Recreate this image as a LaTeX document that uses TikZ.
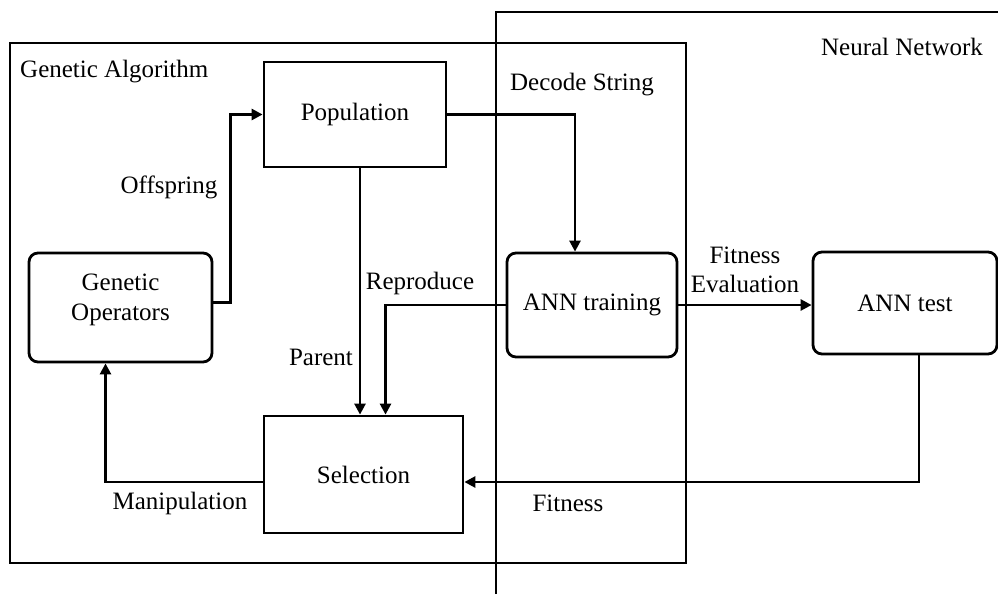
\documentclass[tikz,border=0pt]{standalone}
\usepackage{fontspec}
\setmainfont{Liberation Serif}
\usepackage{tikz}
\usetikzlibrary{arrows.meta, positioning}

\begin{document}
\begin{tikzpicture}[
    x=1pt, y=-1pt,
    box/.style={draw, line width=2.8pt, minimum width=#1, align=center, font=\fontsize{25}{30}\selectfont},
    rbox/.style={box=#1, rounded corners=9pt},
    frame/.style={draw, line width=1.4pt},
    lbl/.style={inner sep=0pt, align=center, font=\fontsize{25}{29}\selectfont},
    arr/.style={-{Triangle[length=11pt, width=11pt]}, line width=2.6pt},
  ]
    \useasboundingbox (0,0) rectangle (998,594);

    % the two frames
    \draw[frame] (10,43) rectangle (686,563);
    \draw[frame] (496,594) -- (496,12) -- (998,12);
    \node[lbl, anchor=west] (galbl) at (20,72) {Genetic Algorithm};
    \node[lbl] (nnlbl) at (902,47) {Neural Network};

    \node[box=182pt, minimum height=105pt] (pop) at (355,114.5) {Population};
    \node[rbox=183pt, minimum height=109pt, text depth=20pt] (genop) at (120.5,307.5) {Genetic\\Operators};
    \node[box=199pt, minimum height=117pt] (sel) at (363.5,474.5) {Selection};
    \node[rbox=170pt, minimum height=104pt] (anntrain) at (592,305) {ANN training};
    \node[rbox=184pt, minimum height=102pt] (anntest) at (905,303) {ANN test};

    \draw[arr] (pop.east) -| ([xshift=-17pt]anntrain.north);
    \draw[arr] ([xshift=5pt]pop.south) -- ([xshift=5pt]pop.south |- sel.north);
    \draw[arr] (anntrain.west) -| ([xshift=22pt]sel.north);
    \draw[arr] ([yshift=5pt]genop.east) -- ++(17,0) |- (pop.west);
    \draw[arr] (anntrain.east) -- (anntrain.east -| anntest.west);
    \draw[arr] ([xshift=14pt]anntest.south) |- ([yshift=-7.5pt]sel.east);
    \draw[arr] ([yshift=-7.5pt]sel.west) -| ([xshift=-15pt]genop.south);

    % connector labels
    \node[lbl] (offlbl) at (169,187) {Offspring};
    \node[lbl] (replbl) at (420,283) {Reproduce};
    \node[lbl] (parlbl) at (321,357) {Parent};
    \node[lbl] (declbl) at (582,85) {Decode String};
    \node[lbl] (evallbl) at (745,270) {Fitness\\Evaluation};
    \node[lbl] (manlbl) at (180,503) {Manipulation};
    \node[lbl] (fitlbl) at (568,503) {Fitness};
  \end{tikzpicture}
\end{document}
